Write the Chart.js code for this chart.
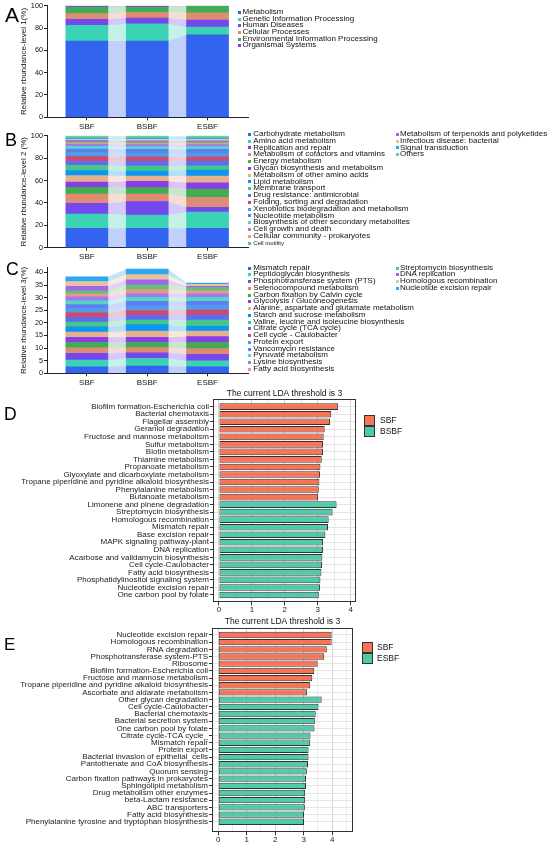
<!DOCTYPE html>
<html><head><meta charset="utf-8">
<script src="https://cdn.jsdelivr.net/npm/chart.js@4.4.1/dist/chart.umd.min.js"></script>
<style>
body{margin:0;width:550px;height:847px;position:relative;background:#fff;font-family:'Liberation Sans',Arial,sans-serif;overflow:hidden}
</style></head><body>
<script>
// ---------------- DATA ----------------
const groups = ['SBF','BSBF','ESBF'];
const palette = ['#3264F0','#3CD2B4','#7349EE','#DF8A72','#3FAE53','#8A3CE6','#E5B08C','#0A96F2','#47C68A','#5C6EF0','#D0486A','#5499E6','#5A80F2','#56D6C2','#9F7BF2','#E99A86','#63C174','#A067EC','#EBC09F','#2AA9F2','#5ED3A8'];

const l1Names = ['Metabolism','Genetic Information Processing','Human Diseases','Cellular Processes','Environmental Information Processing','Organismal Systems'];
const l1SBF  = [68.3,14.0,5.5,5.2,5.8,1.2];
const l1BSBF = [68.3,15.5,5.2,4.9,4.9,1.2];
const l1ESBF = [73.8,7.0,6.4,6.4,5.8,0.6];

const l2Names = ['Carbohydrate metabolism','Amino acid metabolism','Replication and repair','Metabolism of cofactors and vitamins','Energy metabolism','Glycan biosynthesis and metabolism','Metabolism of other amino acids','Lipid metabolism','Membrane transport','Drug resistance: antimicrobial','Folding, sorting and degradation','Xenobiotics biodegradation and metabolism','Nucleotide metabolism','Biosynthesis of other secondary metabolites','Cell growth and death','Cellular community - prokaryotes','Cell motility','Metabolism of terpenoids and polyketides','Infectious disease: bacterial','Signal transduction','Others'];
const l2SBF  = [17.3,12.8,9.5,8.3,6.0,4.7,5.7,4.5,4.7,3.6,4.2,3.8,3.0,2.4,1.8,1.2,1.1,1.2,0.9,1.2,2.1];
const l2BSBF = [17.3,11.9,11.9,6.8,5.7,5.6,4.8,4.5,4.4,4.2,3.9,3.5,3.3,2.4,1.8,1.2,1.1,1.2,1.2,1.2,2.1];
const l2ESBF = [17.3,14.5,4.2,8.9,7.5,5.6,6.0,5.3,3.9,4.2,3.6,3.5,3.3,2.4,1.8,1.2,1.1,1.2,1.2,1.2,2.1];

const l3Names = ['Mismatch repair','Peptidoglycan biosynthesis','Phosphotransferase system (PTS)','Selenocompound metabolism','Carbon fixation by Calvin cycle','Glycolysis / Gluconeogenesis','Alanine, aspartate and glutamate metabolism','Starch and sucrose metabolism','Valine, leucine and isoleucine biosynthesis','Citrate cycle (TCA cycle)','Cell cycle - Caulobacter','Protein export','Vancomycin resistance','Pyruvate metabolism','Lysine biosynthesis','Fatty acid biosynthesis','Streptomycin biosynthesis','DNA replication','Homologous recombination','Nucleotide excision repair'];
const l3SBF  = [2.6,2.6,2.7,2.2,2.1,2.1,2.0,2.1,1.9,1.9,1.8,1.7,1.5,1.5,1.6,1.2,1.2,1.8,1.9,1.9];
const l3BSBF = [2.9,3.0,2.2,2.1,2.0,2.1,2.4,2.6,1.8,1.9,1.9,1.7,1.9,1.6,1.5,1.6,1.8,2.1,2.0,2.2];
const l3ESBF = [2.6,2.3,2.6,2.3,2.4,2.4,2.1,1.9,2.5,2.1,1.9,1.8,1.6,1.6,1.4,1.2,1.3,0.5,0.8,0.5];

const dSBFNames = ['Biofilm formation-Escherichia coli','Bacterial chemotaxis','Flagellar assembly','Geraniol degradation','Fructose and mannose metabolism','Sulfur metabolism','Biotin metabolism','Thiamine metabolism','Propanoate metabolism','Glyoxylate and dicarboxylate metabolism','Tropane piperidine and pyridine alkaloid biosynthesis','Phenylalanine metabolism','Butanoate metabolism'];
const dSBFValues = [3.62,3.41,3.37,3.21,3.18,3.16,3.16,3.12,3.08,3.07,3.05,3.03,3.01];
const dBSBFNames = ['Limonene and pinene degradation','Streptomycin biosynthesis','Homologous recombination','Mismatch repair','Base excision repair','MAPK signaling pathway-plant','DNA replication','Acarbose and validamycin biosynthesis','Cell cycle-Caulobacter','Fatty acid biosynthesis','Phosphatidylinositol signaling system','Nucleotide excision repair','One carbon pool by folate'];
const dBSBFValues = [3.57,3.45,3.33,3.31,3.23,3.16,3.16,3.14,3.13,3.11,3.08,3.07,3.03];

const eSBFNames = ['Nucleotide excision repair','Homologous recombination','RNA degradation','Phosphotransferase system-PTS','Ribosome','Biofilm formation-Escherichia coli','Fructose and mannose metabolism','Tropane piperidine and pyridine alkaloid biosynthesis','Ascorbate and aldarate metabolism'];
const eSBFValues = [3.98,3.98,3.81,3.72,3.49,3.37,3.30,3.23,3.12];
const eESBFNames = ['Other glycan degradation','Cell cycle-Caulobacter','Bacterial chemotaxis','Bacterial secretion system','One carbon pool by folate','Citrate cycle-TCA cycle_','Mismatch repair','Protein export','Bacterial invasion of epithelial_cells','Pantothenate and CoA biosynthesis','Quorum sensing','Carbon fixation pathways in prokaryotes','Sphingolipid metabolism','Drug metabolism other enzymes','beta-Lactam resistance','ABC transporters','Fatty acid biosynthesis','Phenylalanine tyrosine and tryptophan biosynthesis'];
const eESBFValues = [3.63,3.52,3.42,3.39,3.38,3.24,3.23,3.17,3.17,3.15,3.11,3.08,3.08,3.05,3.05,3.04,3.01,3.01];

const ldaTitle = 'The current LDA threshold is 3';
const colSBF = '#F97356', colOther = '#4FCAAA';

// ---------------- HELPERS ----------------
const FONT = "'Liberation Sans', Arial, sans-serif";
Chart.defaults.font.family = FONT;
Chart.defaults.color = '#111';
Chart.defaults.animation = false;

function hexA(h,a){const n=parseInt(h.slice(1),16);return `rgba(${n>>16},${(n>>8)&255},${n&255},${a})`;}
function makeCanvas(left,top,w,h){const c=document.createElement('canvas');c.width=w;c.height=h;c.style.cssText=`position:absolute;left:${left}px;top:${top}px;width:${w}px;height:${h}px`;document.body.appendChild(c);return c;}
function addText(txt,left,top,fs,extra){const d=document.createElement('div');d.textContent=txt;d.style.cssText=`position:absolute;left:${left}px;top:${top}px;font-size:${fs}px;line-height:1;white-space:nowrap;color:#000;${extra||''}`;document.body.appendChild(d);return d;}

function stackChart(cfg){
  const {canvas,names,series,ymax,step,title,padTop,xH,half,barW,xmin,xmax}=cfg;
  const ds=[];
  names.forEach((n,i)=>{
    const pts=[];
    series.forEach((s,g)=>{pts.push({x:g-half,y:s[i]});pts.push({x:g+half,y:s[i]});});
    ds.push({type:'line',label:n+' band',data:pts,order:1,fill:i===0?'origin':'-1',backgroundColor:hexA(palette[i],0.3),borderWidth:0,pointRadius:0,pointHoverRadius:0,tension:0});
  });
  names.forEach((n,i)=>{
    ds.push({type:'bar',label:n,stack:'s',order:0,data:series.map((s,g)=>({x:g,y:s[i]})),backgroundColor:palette[i],borderWidth:0,barThickness:barW});
  });
  new Chart(canvas,{data:{datasets:ds},options:{responsive:false,animation:false,
    layout:{autoPadding:false,padding:{top:padTop,right:2,left:0,bottom:0}},
    plugins:{legend:{display:false},tooltip:{enabled:false}},
    scales:{
      x:{type:'linear',offset:false,min:xmin,max:xmax,afterBuildTicks:a=>{a.ticks=groups.map((g,i)=>({value:i}));},
         ticks:{callback:v=>groups[v],font:{size:8},color:'#111',padding:1.5,autoSkip:false,maxRotation:0},
         grid:{drawOnChartArea:false,tickLength:3,color:'#222',offset:false},border:{color:'#222'},afterFit:a=>{a.height=xH;}},
      y:{stacked:true,min:0,max:ymax,ticks:{stepSize:step,includeBounds:false,font:{size:7.3},color:'#111',padding:1},
         grid:{drawOnChartArea:false,tickLength:3,color:'#222'},border:{color:'#222'},
         title:{display:true,text:title,font:{size:8},color:'#111',padding:{top:19,bottom:0}},afterFit:a=>{a.width=47;}}
    }}});
}

const framePlugin={id:'frame',afterDatasetsDraw(ch){const {ctx,chartArea:a}=ch;ctx.save();ctx.strokeStyle='#333';ctx.lineWidth=1;ctx.strokeRect(Math.round(a.left)+0.5,Math.round(a.top)+0.5,Math.round(a.right-a.left)-1,Math.round(a.bottom-a.top)-1);ctx.restore();}};

function ldaChart(cfg){
  const {canvas,cats1,vals1,cats2,vals2,xmin,xmax,ymin,ymax,left,topH,titlePad,xH}=cfg;
  const cats=cats1.concat(cats2);
  const ds=[
    {label:'A',data:vals1.map((v,i)=>({x:v,y:i})),backgroundColor:colSBF,borderColor:'#333',borderWidth:1,borderSkipped:false},
    {label:'B',data:vals2.map((v,i)=>({x:v,y:i+cats1.length})),backgroundColor:colOther,borderColor:'#333',borderWidth:1,borderSkipped:false}
  ];
  new Chart(canvas,{type:'bar',data:{datasets:ds},plugins:[framePlugin],options:{indexAxis:'y',responsive:false,animation:false,
    layout:{autoPadding:false,padding:{top:0,right:2,left:0,bottom:0}},
    plugins:{legend:{display:false},tooltip:{enabled:false}},
    datasets:{bar:{grouped:false,barPercentage:0.88,categoryPercentage:1}},
    scales:{
      x:{type:'linear',offset:false,min:xmin,max:xmax,
         ticks:{stepSize:0.5,includeBounds:false,autoSkip:false,maxRotation:0,callback:v=>Number.isInteger(v)?String(v):'',font:{size:8},color:'#222',padding:0},
         grid:{offset:false,color:c=>(c.tick&&Number.isInteger(c.tick.value))?'#d4d4d4':'#ebebeb',tickColor:c=>(c.tick&&Number.isInteger(c.tick.value))?'#333':'rgba(0,0,0,0)',tickLength:3},
         border:{display:false},afterFit:a=>{a.height=xH;}},
      xt:{type:'linear',position:'top',offset:false,min:0,max:1,display:true,ticks:{display:false},grid:{display:false,drawTicks:false},border:{display:false},
         title:{display:true,text:ldaTitle,font:{size:8.5},color:'#111',padding:{top:titlePad,bottom:0}},afterFit:a=>{a.height=topH;}},
      y:{type:'linear',offset:false,reverse:true,min:ymin,max:ymax,afterBuildTicks:a=>{a.ticks=cats.map((c,i)=>({value:i}));},
         ticks:{callback:v=>cats[v],autoSkip:false,font:{size:8},color:'#222',padding:1},
         grid:{offset:false,color:'#e4e4e4',tickColor:'#333',tickLength:3},border:{display:false},afterFit:a=>{a.width=left;}}
    }}});
}

function legendCol(names,colors,sqX,txX,y0,step,fs,smallLast){
  names.forEach((n,i)=>{
    const cy=y0+i*step;
    const sq=document.createElement('div');
    sq.style.cssText=`position:absolute;left:${sqX}px;top:${cy-1.5}px;width:3px;height:3px;background:${colors[i]}`;
    document.body.appendChild(sq);
    const f=(smallLast&&i===names.length-1)?6:fs;
    addText(n,txX,cy-f*0.55,f,'color:#111');
  });
}
function ldaLegend(x,y,labels,cols,txX){
  labels.forEach((l,i)=>{
    const sq=document.createElement('div');
    sq.style.cssText=`position:absolute;left:${x}px;top:${y+i*11}px;width:11px;height:11px;box-sizing:border-box;border:1px solid #333;background:${cols[i]}`;
    document.body.appendChild(sq);
    addText(l,txX,y+i*11+1.2,8.5,'color:#111');
  });
}

// ---------------- PANELS ----------------
const half=0.348, barW=42;
stackChart({canvas:makeCanvas(0,0,250,135),names:l1Names,series:[l1SBF,l1BSBF,l1ESBF],ymax:100,step:10,title:'Relative rbundance-level 1(%)',padTop:5.7,xH:17.7,half,barW,xmin:-0.66,xmax:2.67});
stackChart({canvas:makeCanvas(0,128,250,136),names:l2Names,series:[l2SBF,l2BSBF,l2ESBF],ymax:100,step:10,title:'Relative rbundance-level 2 (%)',padTop:7.7,xH:16.3,half,barW,xmin:-0.66,xmax:2.67});
stackChart({canvas:makeCanvas(0,262,250,128),names:l3Names,series:[l3SBF,l3BSBF,l3ESBF],ymax:42,step:5,title:'Relative rbundance-level 3(%)',padTop:4.6,xH:16.7,half,barW,xmin:-0.66,xmax:2.67});

ldaChart({canvas:makeCanvas(0,385,358,230),cats1:dSBFNames,vals1:dSBFValues,cats2:dBSBFNames,vals2:dBSBFValues,xmin:-0.18,xmax:4.16,ymin:-0.98,ymax:25.97,left:213,topH:14.3,titlePad:3.2,xH:12.7});
ldaChart({canvas:makeCanvas(0,612,355,235),cats1:eSBFNames,vals1:eSBFValues,cats2:eESBFNames,vals2:eESBFValues,xmin:-0.22,xmax:4.73,ymin:-0.97,ymax:27.47,left:212,topH:16,titlePad:4.9,xH:14.7});

// legends
legendCol(l1Names,palette,237.7,242.5,12.3,6.7,8,false);
legendCol(l2Names.slice(0,17),palette.slice(0,17),248,253.3,134.3,6.8,8,true);
legendCol(l2Names.slice(17),palette.slice(17),396,400,134.3,6.8,8,false);
legendCol(l3Names.slice(0,16),palette.slice(0,16),248,253.3,268,6.75,8,false);
legendCol(l3Names.slice(16),palette.slice(16),396,400,268,6.75,8,false);
ldaLegend(364,415,['SBF','BSBF'],[colSBF,colOther],380);
ldaLegend(361.7,642,['SBF','ESBF'],[colSBF,colOther],377);

// panel letters
addText('A',5,4,21);
addText('B',5,131,18);
addText('C',6,261,17.5);
addText('D',4,406,17.5);
addText('E',4,636,17);
</script>
</body></html>
